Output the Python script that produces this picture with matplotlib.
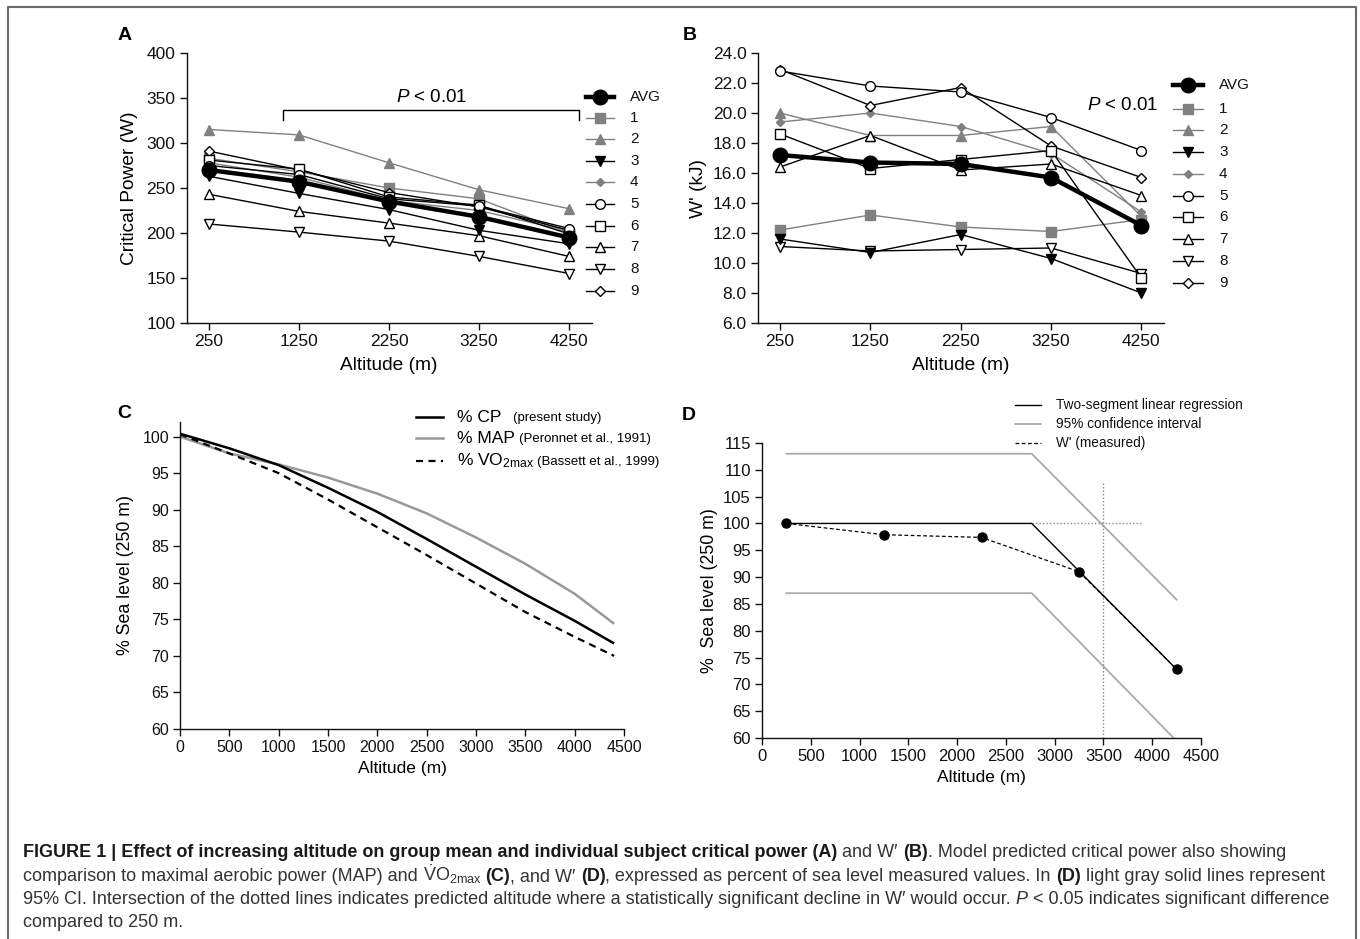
import matplotlib
matplotlib.use('Agg')
import matplotlib.pyplot as plt
from matplotlib.lines import Line2D

plt.rcParams['font.family'] = ['Liberation Sans', 'DejaVu Sans']
plt.rcParams['mathtext.fontset'] = 'custom'
plt.rcParams['mathtext.rm'] = 'Liberation Sans'
plt.rcParams['mathtext.it'] = 'Liberation Sans:italic'
plt.rcParams['mathtext.bf'] = 'Liberation Sans:bold'

# ---------------- data ----------------
altitudes = [250, 1250, 2250, 3250, 4250]
series_names = ['AVG', '1', '2', '3', '4', '5', '6', '7', '8', '9']

cp_avg = [270, 257, 235, 218, 195]
cp_s1 = [283, 268, 250, 238, 200]
cp_s2 = [315, 309, 278, 248, 227]
cp_s3 = [263, 244, 226, 203, 188]
cp_s4 = [278, 262, 236, 225, 202]
cp_s5 = [275, 265, 238, 230, 205]
cp_s6 = [281, 271, 240, 231, 199]
cp_s7 = [243, 224, 211, 197, 174]
cp_s8 = [210, 201, 191, 174, 155]
cp_s9 = [291, 270, 245, 229, 203]

wp_avg = [17.2, 16.7, 16.6, 15.7, 12.5]
wp_s1 = [12.2, 13.2, 12.4, 12.1, 12.9]
wp_s2 = [20.0, 18.5, 18.5, 19.1, 13.1]
wp_s3 = [11.6, 10.7, 11.9, 10.3, 8.0]
wp_s4 = [19.4, 20.0, 19.1, 17.3, 13.4]
wp_s5 = [22.8, 21.8, 21.4, 19.7, 17.5]
wp_s6 = [18.6, 16.3, 16.9, 17.5, 9.0]
wp_s7 = [16.4, 18.5, 16.2, 16.6, 14.5]
wp_s8 = [11.1, 10.8, 10.9, 11.0, 9.3]
wp_s9 = [22.9, 20.5, 21.7, 17.8, 15.7]

cp_series = [cp_avg, cp_s1, cp_s2, cp_s3, cp_s4, cp_s5, cp_s6, cp_s7, cp_s8, cp_s9]
wp_series = [wp_avg, wp_s1, wp_s2, wp_s3, wp_s4, wp_s5, wp_s6, wp_s7, wp_s8, wp_s9]

# Panel C model curves
c_alt = [0, 500, 1000, 1500, 2000, 2500, 3000, 3500, 4000, 4400]
c_cp = [100.4, 98.4, 96.1, 93.0, 89.7, 86.0, 82.2, 78.4, 74.8, 71.7]
c_map = [100.0, 97.7, 96.2, 94.4, 92.2, 89.5, 86.2, 82.6, 78.5, 74.4]
c_vo2 = [100.3, 97.7, 95.0, 91.4, 87.6, 83.8, 79.9, 76.0, 72.6, 70.0]

# Panel D
d_meas_alt = [250, 1250, 2250, 3250, 4250]
d_meas_pct = [100.0, 97.9, 97.4, 91.0, 72.8]
d_reg_alt = [250, 2765, 4250]
d_reg_pct = [100.0, 100.0, 72.8]
d_ci_up_alt = [250, 2765, 4250]
d_ci_up_pct = [113.0, 113.0, 85.8]
d_ci_lo_alt = [250, 2765, 4220]
d_ci_lo_pct = [87.0, 87.0, 60.0]
d_vline_alt = [3500, 3500]
d_vline_pct = [60.0, 107.5]
d_hline_alt = [2765, 3880]
d_hline_pct = [100.0, 100.0]

# ---------------- figure ----------------
W, H = 1360, 939
fig = plt.figure(figsize=(13.6, 9.39), dpi=100)
fig.patch.set_facecolor('white')


def fx(px):
    return px / W


def fy(py):
    return 1 - py / H


def axes_px(x0, x1, ytop, ybot):
    return fig.add_axes([fx(x0), fy(ybot), (x1 - x0) / W, (ybot - ytop) / H])


def style_axes(ax, tsize):
    for s in ['top', 'right']:
        ax.spines[s].set_visible(False)
    for s in ['left', 'bottom']:
        ax.spines[s].set_linewidth(1.0)
        ax.spines[s].set_color('#111111')
    ax.tick_params(direction='out', length=5, width=1.0, pad=3,
                   labelsize=tsize, colors='#111111')
    ax.patch.set_alpha(0)


GRAY = '#808080'
styles = [
    dict(color='black', lw=3.2, marker='o', ms=10.5, mfc='black', mec='black', zorder=10),
    dict(color=GRAY, lw=1.0, marker='s', ms=6.5, mfc=GRAY, mec=GRAY, zorder=3),
    dict(color=GRAY, lw=1.0, marker='^', ms=6.5, mfc=GRAY, mec=GRAY, zorder=3),
    dict(color='black', lw=1.0, marker='v', ms=6.5, mfc='black', mec='black', zorder=4),
    dict(color=GRAY, lw=1.0, marker='D', ms=4.5, mfc=GRAY, mec=GRAY, zorder=3),
    dict(color='black', lw=1.0, marker='o', ms=7, mfc='white', mec='black', mew=1.0, zorder=4),
    dict(color='black', lw=1.0, marker='s', ms=7, mfc='white', mec='black', mew=1.0, zorder=4),
    dict(color='black', lw=1.0, marker='^', ms=7.5, mfc='white', mec='black', mew=1.0, zorder=4),
    dict(color='black', lw=1.0, marker='v', ms=7.5, mfc='white', mec='black', mew=1.0, zorder=4),
    dict(color='black', lw=1.0, marker='D', ms=5.5, mfc='white', mec='black', mew=1.0, zorder=4),
]


def legend_rows(x0, xm, x1, xt, rows):
    for name, st, y in zip(series_names, styles, rows):
        kw = {k: v for k, v in st.items() if k != 'zorder'}
        ln = Line2D([fx(x0), fx(xm), fx(x1)], [fy(y)] * 3, markevery=[1],
                    transform=fig.transFigure, **kw)
        fig.add_artist(ln)
        fig.text(fx(xt), fy(y), name, va='center', ha='left', fontsize=11, color='#111111')


renderer = fig.canvas.get_renderer()

# ---------- Panel A ----------
axA = axes_px(186.5, 591.5, 53, 323)
style_axes(axA, 12.5)
for vals, st in zip(cp_series[::-1], styles[::-1]):
    axA.plot(altitudes, vals, clip_on=False, **st)
axA.set_xlim(0, 4500)
axA.set_ylim(100, 400)
axA.set_xticks(altitudes)
axA.set_yticks([100, 150, 200, 250, 300, 350, 400])
axA.set_xlabel('Altitude (m)', fontsize=13.8, labelpad=6)
axA.set_ylabel('Critical Power (W)', fontsize=13.8, labelpad=6)
axA.plot([1070, 1070, 4360, 4360], [325.5, 336.7, 336.7, 325.5], color='black',
         lw=1.0, clip_on=False)
axA.text(2728, 351, r'$P$ < 0.01', ha='center', va='center', fontsize=13.5)
fig.text(fx(125), fy(35), 'A', fontsize=14, fontweight='bold', ha='center', va='center')
legend_rows(586, 600, 614, 630, [97, 118, 139, 161, 182, 204, 226, 247, 269, 291])

# ---------- Panel B ----------
axB = axes_px(757.5, 1164, 53, 323)
style_axes(axB, 12.5)
for vals, st in zip(wp_series[::-1], styles[::-1]):
    axB.plot(altitudes, vals, clip_on=False, **st)
axB.set_xlim(0, 4500)
axB.set_ylim(6, 24)
axB.set_xticks(altitudes)
axB.set_yticks([6, 8, 10, 12, 14, 16, 18, 20, 22, 24])
axB.set_yticklabels(['%.1f' % v for v in [6, 8, 10, 12, 14, 16, 18, 20, 22, 24]])
axB.set_xlabel('Altitude (m)', fontsize=13.8, labelpad=6)
axB.set_ylabel("W' (kJ)", fontsize=13.8, labelpad=4)
fig.text(fx(1123), fy(105), r'$P$ < 0.01', ha='center', va='center', fontsize=13.5)
fig.text(fx(690), fy(35), 'B', fontsize=14, fontweight='bold', ha='center', va='center')
legend_rows(1173, 1188, 1203, 1219, [85, 109, 130, 152, 174, 196, 217, 239, 261, 283])

# ---------- Panel C ----------
axC = axes_px(180, 624, 422, 729)
style_axes(axC, 11.5)
axC.plot(c_alt, c_map, color='#999999', lw=1.8, solid_capstyle='butt', solid_joinstyle='round')
axC.plot(c_alt, c_vo2, color='black', lw=1.6, linestyle=(0, (3.2, 2.4)))
axC.plot(c_alt, c_cp, color='black', lw=1.8, solid_capstyle='butt', solid_joinstyle='round')
axC.set_xlim(0, 4500)
axC.set_ylim(60, 102)
axC.set_xticks(range(0, 4501, 500))
axC.set_yticks(range(60, 101, 5))
axC.set_xlabel('Altitude (m)', fontsize=12.5, labelpad=4)
axC.set_ylabel('% Sea level (250 m)', fontsize=12.8, labelpad=6)
fig.text(fx(124), fy(413), 'C', fontsize=14, fontweight='bold', ha='center', va='center')
c_leg = [(417, dict(color='black', lw=1.8), '% CP', '(present study)', 12),
         (438, dict(color='#999999', lw=1.8), '% MAP', '(Peronnet et al., 1991)', 4),
         (461, dict(color='black', lw=1.6, linestyle=(0, (3.2, 2.4))),
          r'% VO$_{\mathrm{2max}}$', '(Bassett et al., 1999)', 3)]
for y, st, main, sub, gap in c_leg:
    fig.add_artist(Line2D([fx(416), fx(443)], [fy(y)] * 2, transform=fig.transFigure, **st))
    tm = fig.text(fx(457), fy(y), main, va='center', ha='left', fontsize=12.5)
    bb = tm.get_window_extent(renderer)
    fig.text(fx(457 + bb.width + gap), fy(y + 1), sub, va='center', ha='left', fontsize=9.5)

# ---------- Panel D ----------
axD = axes_px(762, 1201, 443, 738)
style_axes(axD, 12)
axD.plot(d_ci_up_alt, d_ci_up_pct, color='#aaaaaa', lw=1.3)
axD.plot(d_ci_lo_alt, d_ci_lo_pct, color='#aaaaaa', lw=1.3)
axD.plot(d_vline_alt, d_vline_pct, color='#888888', lw=1.0, linestyle=(0, (1, 1.5)))
axD.plot(d_hline_alt, d_hline_pct, color='#888888', lw=1.0, linestyle=(0, (1, 1.5)))
axD.plot(d_reg_alt, d_reg_pct, color='black', lw=1.0)
axD.plot(d_meas_alt, d_meas_pct, color='black', lw=0.9, linestyle=(0, (3, 2)),
         marker='o', ms=6.5, mfc='black', mec='black', clip_on=False, zorder=5)
axD.set_xlim(0, 4500)
axD.set_ylim(60, 115)
axD.set_xticks(range(0, 4501, 500))
axD.set_yticks(range(60, 116, 5))
axD.set_xlabel('Altitude (m)', fontsize=12.5, labelpad=4)
axD.set_ylabel('%  Sea level (250 m)', fontsize=12.8, labelpad=4)
fig.text(fx(689), fy(415), 'D', fontsize=14, fontweight='bold', ha='center', va='center')
d_leg = [(405, dict(color='black', lw=1.0), 'Two-segment linear regression'),
         (424, dict(color='#aaaaaa', lw=1.3), '95% confidence interval'),
         (443, dict(color='black', lw=0.9, linestyle=(0, (3, 2))), "W' (measured)")]
for y, st, lab in d_leg:
    fig.add_artist(Line2D([fx(1015), fx(1041)], [fy(y)] * 2, transform=fig.transFigure, **st))
    fig.text(fx(1056), fy(y), lab, va='center', ha='left', fontsize=9.8, color='#111111')

# ---------- border ----------
fig.add_artist(Line2D([fx(7.5), fx(7.5), fx(1355.5), fx(1355.5)],
                      [fy(960), fy(6.5), fy(6.5), fy(960)],
                      color='#6a6a6a', lw=1.5, transform=fig.transFigure))

# ---------- caption ----------
NORM = dict(color='#333333')
BOLD = dict(color='#1a1a1a', fontweight='bold')
ITAL = dict(color='#333333', fontstyle='italic')
vo2 = r'$\dot{\mathrm{V}}\mathrm{O}_{\mathrm{2max}}$'
GAP = None  # marker for a small fixed gap
cap_lines = [
    [('FIGURE 1 | Effect of increasing altitude on group mean and individual subject critical power (A)', BOLD),
     (' and W\u2032 ', NORM), ('(B)', BOLD), ('. Model predicted critical power also showing', NORM)],
    [('comparison to maximal aerobic power (MAP) and ', NORM), (vo2, NORM), (GAP, 4.0), ('(C)', BOLD),
     (', and W\u2032 ', NORM), ('(D)', BOLD),
     (', expressed as percent of sea level measured values. In ', NORM), ('(D)', BOLD),
     (' light gray solid lines represent', NORM)],
    [('95% CI. Intersection of the dotted lines indicates predicted altitude where a statistically '
      'significant decline in W\u2032 would occur. ', NORM), ('P', ITAL),
     (' < 0.05 indicates significant difference', NORM)],
    [('compared to 250 m.', NORM)],
]
cap_y = [857, 881, 904, 927]
cap_targets = [1289, 1303, 1311]


def text_w(s, kw, size):
    t = fig.text(0, 0, s, fontsize=size, **kw)
    w = t.get_window_extent(renderer).width
    t.remove()
    return w


def space_w(kw, size):
    return text_w('n n', kw, size) - text_w('nn', kw, size)


def draw_line(segs, x0, y, size, draw=True):
    x = x0
    for s, kw in segs:
        if s is None:
            x += kw
            continue
        lead = len(s) - len(s.lstrip(' '))
        trail = len(s) - len(s.rstrip(' '))
        core = s.strip(' ')
        sw = space_w(kw, size)
        x += lead * sw
        if core:
            if draw:
                t = fig.text(fx(x), fy(y), core, fontsize=size, va='baseline', ha='left', **kw)
                w = t.get_window_extent(renderer).width
            else:
                w = text_w(core, kw, size)
            x += w
        x += trail * sw
    return x - x0


base = 12.0
scale = min(tg / draw_line(segs, 23, 0, base, draw=False)
            for segs, tg in zip(cap_lines, cap_targets))
cap_size = base * scale
for segs, y in zip(cap_lines, cap_y):
    draw_line(segs, 23, y, cap_size)

fig.savefig('out.png', dpi=100, facecolor='white')
